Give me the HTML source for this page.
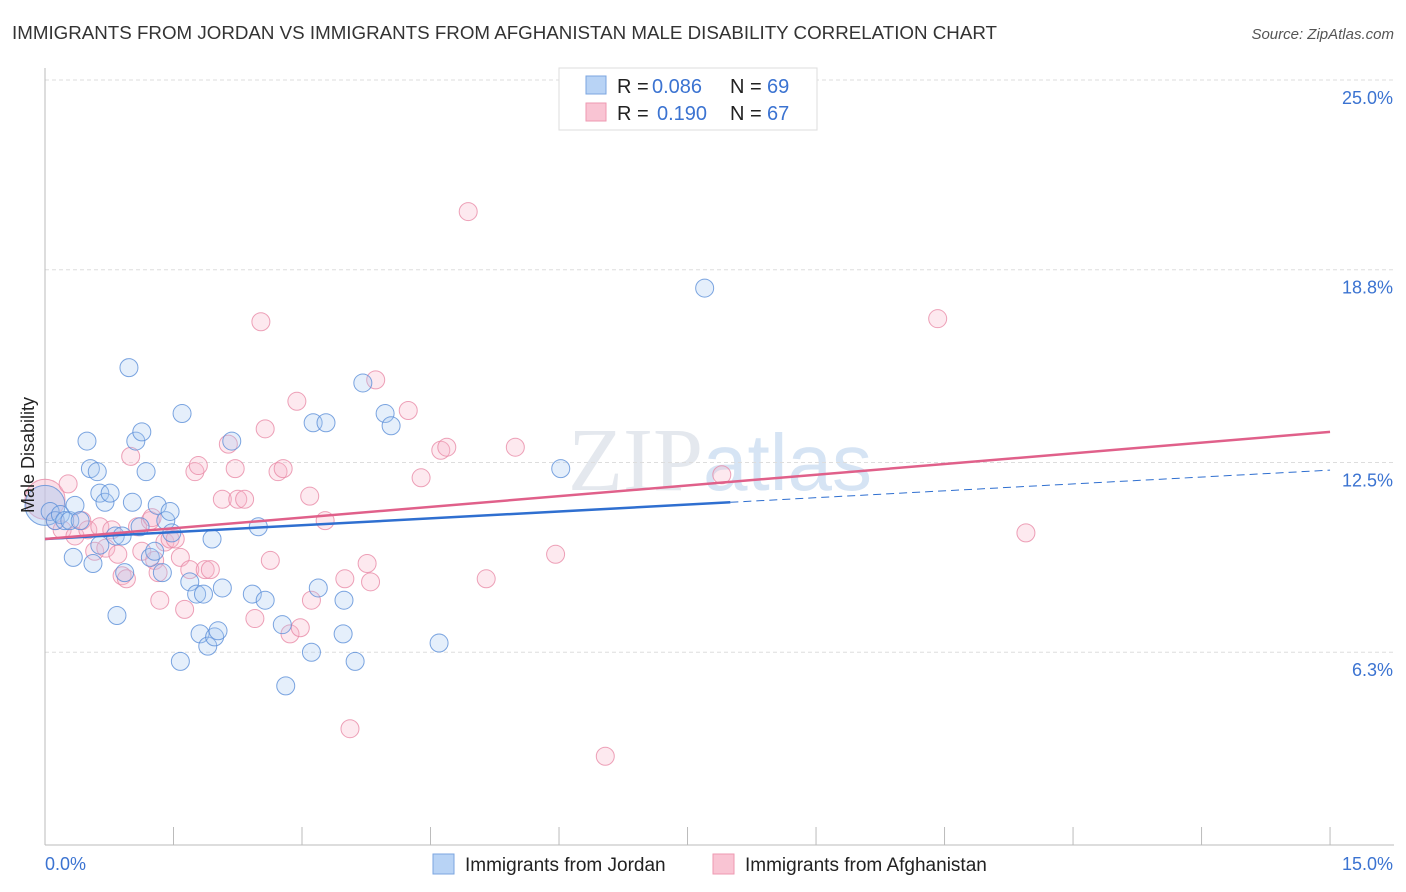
<!DOCTYPE html>
<html><head><meta charset="utf-8"><style>
body{margin:0;background:#fff;font-family:"Liberation Sans",sans-serif}
svg{display:block}
</style></head><body>
<svg id="chart" width="1406" height="892" xmlns="http://www.w3.org/2000/svg">
<text x="12" y="39" font-size="18" fill="#333" textLength="985" lengthAdjust="spacingAndGlyphs">IMMIGRANTS FROM JORDAN VS IMMIGRANTS FROM AFGHANISTAN MALE DISABILITY CORRELATION CHART</text>
<text x="1394" y="39" font-size="15" fill="#555" font-style="italic" text-anchor="end">Source: ZipAtlas.com</text>
<text x="720" y="490" font-size="90" fill="#e4e8ee" font-family="Liberation Serif,serif" text-anchor="middle">ZIP<tspan font-family="Liberation Sans,sans-serif" fill="#d6e4f4" font-size="80">atlas</tspan></text>
<g id="grid"></g>
<g id="axes"></g>
<g id="marks"></g>
<text transform="translate(34,455) rotate(-90)" font-size="18" fill="#222" text-anchor="middle">Male Disability</text>
<g>
<rect x="559" y="68" width="258" height="62" fill="#fff" stroke="#ddd"/>
<rect x="586" y="76" width="20" height="18" fill="#b8d3f5" stroke="#7ba6e0"/>
<rect x="586" y="103" width="20" height="18" fill="#f9c4d3" stroke="#ee99b2"/>
<text x="617" y="93" font-size="20" fill="#222">R =</text>
<text x="652" y="93" font-size="20" fill="#3b73d1">0.086</text>
<text x="730" y="93" font-size="20" fill="#222">N =</text>
<text x="767" y="93" font-size="20" fill="#3b73d1">69</text>
<text x="617" y="120" font-size="20" fill="#222">R =</text>
<text x="657" y="120" font-size="20" fill="#3b73d1">0.190</text>
<text x="730" y="120" font-size="20" fill="#222">N =</text>
<text x="767" y="120" font-size="20" fill="#3b73d1">67</text>
</g>
<g>
<rect x="433" y="854" width="21" height="20" fill="#b8d3f5" stroke="#7ba6e0"/>
<text x="465" y="871" font-size="19" fill="#222">Immigrants from Jordan</text>
<rect x="713" y="854" width="21" height="20" fill="#f9c4d3" stroke="#ee99b2"/>
<text x="745" y="871" font-size="19" fill="#222">Immigrants from Afghanistan</text>
</g>
</svg>
<script>
const yTicks=[25.0,18.8,12.5,6.3];
const yTickLabels=["25.0%","18.8%","12.5%","6.3%"];
const xTickLabels=["0.0%","15.0%"];
const jordanX=[0.0,0.06,0.12,0.18,0.23,0.29,0.35,0.41,0.49,0.53,0.61,0.64,0.70,0.76,0.33,0.56,0.64,0.84,0.82,0.90,0.93,0.98,1.02,1.06,1.13,1.18,1.11,1.23,1.28,1.31,1.37,1.41,1.46,1.48,1.60,1.58,1.69,1.77,1.81,1.85,1.90,1.95,1.98,2.02,2.07,2.18,2.42,2.49,2.57,2.77,2.81,3.11,3.13,3.28,3.19,3.49,3.48,3.62,3.71,3.97,4.04,4.60,6.02,7.70];
const jordanY=[11.1,10.9,10.6,10.8,10.6,10.6,11.1,10.6,13.2,12.3,12.2,11.5,11.2,11.5,9.4,9.2,9.8,7.5,10.1,10.1,8.9,15.6,11.2,13.2,13.5,12.2,10.4,9.4,9.6,11.1,8.9,10.6,10.9,10.2,14.1,6.0,8.6,8.2,6.9,8.2,6.5,10.0,6.8,7.0,8.4,13.2,8.2,10.4,8.0,7.2,5.2,6.3,13.8,13.8,8.4,8.0,6.9,6.0,15.1,14.1,13.7,6.6,12.3,18.2];
const afgX=[0.0,0.12,0.20,0.27,0.35,0.43,0.50,0.58,0.64,0.71,0.78,0.85,0.90,0.95,1.00,1.08,1.13,1.23,1.25,1.28,1.32,1.34,1.40,1.46,1.52,1.58,1.63,1.69,1.75,1.79,1.87,1.93,2.07,2.14,2.22,2.25,2.33,2.45,2.52,2.57,2.63,2.72,2.78,2.86,2.94,2.98,3.11,3.09,3.27,3.50,3.56,3.76,3.80,3.86,4.24,4.39,4.62,4.69,4.94,5.15,5.49,5.96,6.54,7.90,10.42,11.45];
const afgY=[11.3,10.6,10.3,11.8,10.1,10.6,10.3,9.6,10.4,9.7,10.3,9.5,8.8,8.7,12.7,10.4,9.6,10.6,10.7,9.3,8.9,8.0,9.9,10.0,10.0,9.4,7.7,9.0,12.2,12.4,9.0,9.0,11.3,13.1,12.3,11.3,11.3,7.4,17.1,13.6,9.3,12.2,12.3,6.9,14.5,7.1,8.0,11.4,10.6,8.7,3.8,9.2,8.6,15.2,14.2,12.0,12.9,13.0,20.7,8.7,13.0,9.5,2.9,12.1,17.2,10.2];
const jordanTrend=[10.0,11.2];
const afgTrend=[10.0,13.5];
const NS="http://www.w3.org/2000/svg";
const xs=v=>45+v*85.67, ys=v=>845-v*30.6;
function mk(tag,attrs,parent){const e=document.createElementNS(NS,tag);for(const k in attrs)e.setAttribute(k,attrs[k]);parent.appendChild(e);return e;}
const grid=document.getElementById('grid'),axes=document.getElementById('axes'),marks=document.getElementById('marks');
yTicks.forEach((t,i)=>{
 const g=mk('line',{x1:45,x2:1394,y1:ys(t),y2:ys(t),stroke:'#ddd','stroke-dasharray':'4,3'},grid);
 
 
 const l=mk('text',{x:1393,y:ys(t)+24,'font-size':18,fill:'#3b73d1','text-anchor':'end'},axes);
 l.textContent=yTickLabels[i];
 
 
});
const ax=mk('line',{x1:45,x2:45,y1:68,y2:845,stroke:'#bbb'},axes);


const bx=mk('line',{x1:45,x2:1394,y1:845,y2:845,stroke:'#bbb'},axes);


for(let i=0;i<=10;i++){const x=xs(i*1.5);const t=mk('line',{x1:x,x2:x,y1:827,y2:845,stroke:'#bbb'},axes);
 
 }
[[0,'start',45],[15,'end',1393]].forEach((d,i)=>{const l=mk('text',{x:d[2],y:870,'font-size':18,fill:'#3b73d1','text-anchor':d[1]},axes);l.textContent=xTickLabels[i];
 
 });
function pts(X,Y,fill,stroke,name){X.forEach((x,i)=>{const r=i===0?20:9;const c=mk('circle',{cx:xs(x),cy:ys(Y[i]),r:r,fill:fill,'fill-opacity':i===0?0.45:0.3,stroke:stroke,'stroke-opacity':0.8,'stroke-width':1},marks);
 
 });}
pts(afgX,afgY,'#f7b6c9','#e88aa6','afghanistan-point');
pts(jordanX,jordanY,'#a9c9f2','#5b8fd8','jordan-point');
const bl=mk('line',{x1:xs(0),y1:ys(jordanTrend[0]),x2:xs(8),y2:ys(jordanTrend[1]),stroke:'#2f6fd0','stroke-width':2.5},marks);


const slope=(jordanTrend[1]-jordanTrend[0])/8;
const bd=mk('line',{x1:xs(8),y1:ys(jordanTrend[1]),x2:xs(15),y2:ys(jordanTrend[1]+slope*7),stroke:'#2f6fd0','stroke-width':1,'stroke-dasharray':'8,5'},marks);


const pl=mk('line',{x1:xs(0),y1:ys(afgTrend[0]),x2:xs(15),y2:ys(afgTrend[1]),stroke:'#e0608a','stroke-width':2.5},marks);


</script>
</body></html>
